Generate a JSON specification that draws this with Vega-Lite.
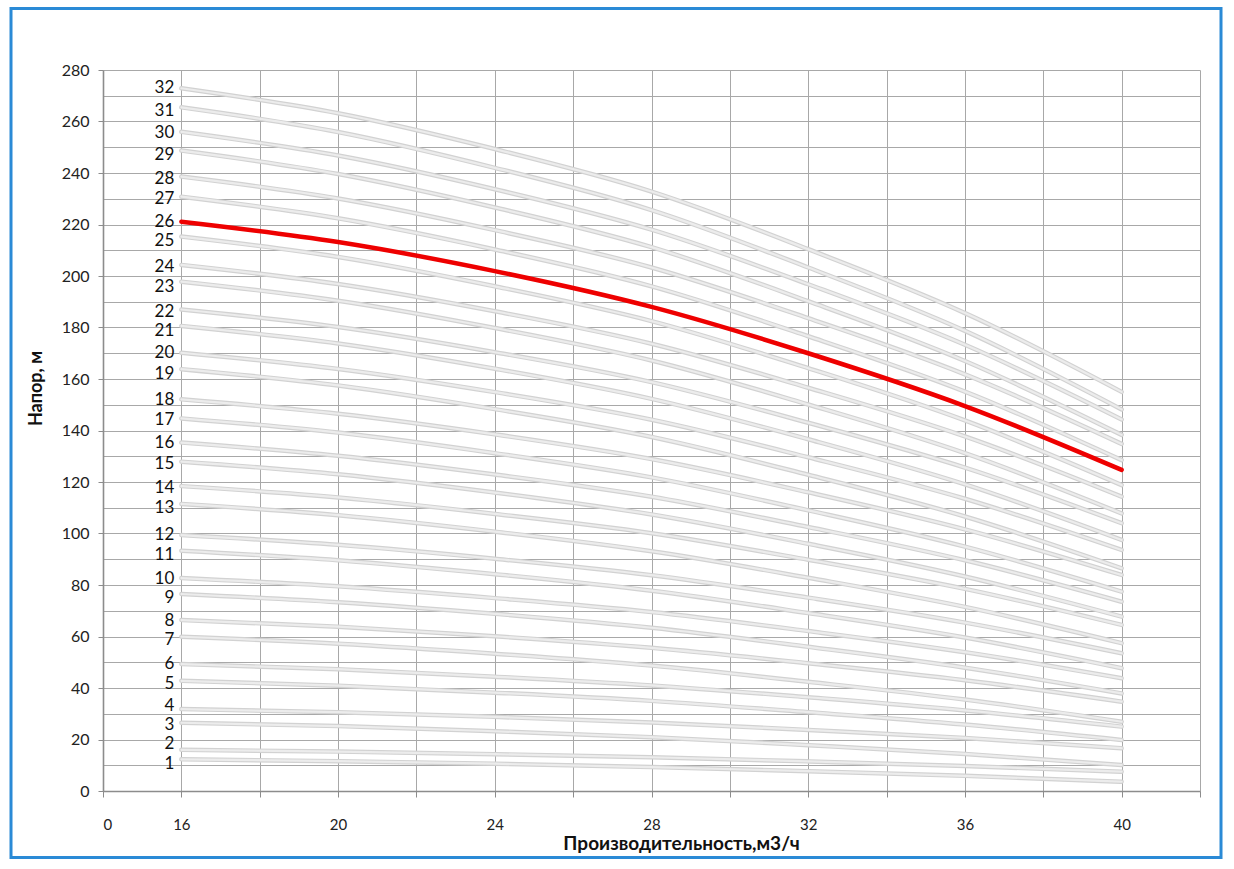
{
  "$schema": "https://vega.github.io/schema/vega-lite/v6.json",
  "autosize": {"type": "none"},
  "padding": {"left": 103, "top": 70, "right": 34, "bottom": 78},
  "width": 1097,
  "height": 721,
  "background": "white",
  "config": {"view": {"stroke": null}, "font": "Lato"},
  "datasets": {
    "labels": [
      {"n":1,"q":16,"h":10.5},{"n":2,"q":16,"h":18.4},{"n":3,"q":16,"h":25.8},{"n":4,"q":16,"h":33.0},
      {"n":5,"q":16,"h":41.5},{"n":6,"q":16,"h":49.3},{"n":7,"q":16,"h":58.6},{"n":8,"q":16,"h":66.0},
      {"n":9,"q":16,"h":74.9},{"n":10,"q":16,"h":82.5},{"n":11,"q":16,"h":91.5},{"n":12,"q":16,"h":99.3},
      {"n":13,"q":16,"h":110.0},{"n":14,"q":16,"h":117.7},{"n":15,"q":16,"h":127.0},{"n":16,"q":16,"h":135.0},
      {"n":17,"q":16,"h":144.0},{"n":18,"q":16,"h":151.8},{"n":19,"q":16,"h":162.0},{"n":20,"q":16,"h":170.0},
      {"n":21,"q":16,"h":178.6},{"n":22,"q":16,"h":186.0},{"n":23,"q":16,"h":195.7},{"n":24,"q":16,"h":203.5},
      {"n":25,"q":16,"h":213.6},{"n":26,"q":16,"h":221.0},{"n":27,"q":16,"h":230.0},{"n":28,"q":16,"h":237.7},
      {"n":29,"q":16,"h":247.0},{"n":30,"q":16,"h":255.5},{"n":31,"q":16,"h":264.0},{"n":32,"q":16,"h":273.0}
    ],
    "curves": [
    {"n":1,"q":16,"h":12.3},{"n":1,"q":20,"h":11.6},{"n":1,"q":24,"h":10.6},{"n":1,"q":28,"h":9.3},{"n":1,"q":32,"h":7.7},{"n":1,"q":36,"h":5.9},{"n":1,"q":40,"h":3.6},
    {"n":2,"q":16,"h":16.0},{"n":2,"q":20,"h":15.3},{"n":2,"q":24,"h":14.3},{"n":2,"q":28,"h":13.1},{"n":2,"q":32,"h":11.5},{"n":2,"q":36,"h":9.7},{"n":2,"q":40,"h":7.5},
    {"n":3,"q":16,"h":26.5},{"n":3,"q":20,"h":25.2},{"n":3,"q":24,"h":23.2},{"n":3,"q":28,"h":20.9},{"n":3,"q":32,"h":17.8},{"n":3,"q":36,"h":14.4},{"n":3,"q":40,"h":10.1},
    {"n":4,"q":16,"h":31.8},{"n":4,"q":20,"h":30.6},{"n":4,"q":24,"h":28.8},{"n":4,"q":28,"h":26.6},{"n":4,"q":32,"h":23.7},{"n":4,"q":36,"h":20.6},{"n":4,"q":40,"h":16.6},
    {"n":5,"q":16,"h":42.8},{"n":5,"q":20,"h":40.9},{"n":5,"q":24,"h":38.2},{"n":5,"q":28,"h":35.0},{"n":5,"q":32,"h":30.6},{"n":5,"q":36,"h":25.8},{"n":5,"q":40,"h":19.8},
    {"n":6,"q":16,"h":49.3},{"n":6,"q":20,"h":47.3},{"n":6,"q":24,"h":44.4},{"n":6,"q":28,"h":41.0},{"n":6,"q":32,"h":36.4},{"n":6,"q":36,"h":31.3},{"n":6,"q":40,"h":25.0},
    {"n":7,"q":16,"h":59.9},{"n":7,"q":20,"h":57.2},{"n":7,"q":24,"h":53.3},{"n":7,"q":28,"h":48.7},{"n":7,"q":32,"h":42.4},{"n":7,"q":36,"h":35.5},{"n":7,"q":40,"h":26.9},
    {"n":8,"q":16,"h":66.4},{"n":8,"q":20,"h":63.8},{"n":8,"q":24,"h":60.1},{"n":8,"q":28,"h":55.6},{"n":8,"q":32,"h":49.6},{"n":8,"q":36,"h":43.0},{"n":8,"q":40,"h":34.7},
    {"n":9,"q":16,"h":76.5},{"n":9,"q":20,"h":73.3},{"n":9,"q":24,"h":68.8},{"n":9,"q":28,"h":63.4},{"n":9,"q":32,"h":56.0},{"n":9,"q":36,"h":47.9},{"n":9,"q":40,"h":37.9},
    {"n":10,"q":16,"h":82.7},{"n":10,"q":20,"h":79.5},{"n":10,"q":24,"h":74.9},{"n":10,"q":28,"h":69.5},{"n":10,"q":32,"h":62.1},{"n":10,"q":36,"h":53.9},{"n":10,"q":40,"h":43.8},
    {"n":11,"q":16,"h":93.3},{"n":11,"q":20,"h":89.6},{"n":11,"q":24,"h":84.2},{"n":11,"q":28,"h":77.8},{"n":11,"q":32,"h":69.1},{"n":11,"q":36,"h":59.6},{"n":11,"q":40,"h":47.7},
    {"n":12,"q":16,"h":99.4},{"n":12,"q":20,"h":95.6},{"n":12,"q":24,"h":90.2},{"n":12,"q":28,"h":83.8},{"n":12,"q":32,"h":75.1},{"n":12,"q":36,"h":65.4},{"n":12,"q":40,"h":53.5},
    {"n":13,"q":16,"h":111.5},{"n":13,"q":20,"h":107.1},{"n":13,"q":24,"h":100.7},{"n":13,"q":28,"h":93.1},{"n":13,"q":32,"h":82.8},{"n":13,"q":36,"h":71.5},{"n":13,"q":40,"h":57.4},
    {"n":14,"q":16,"h":118.4},{"n":14,"q":20,"h":114.0},{"n":14,"q":24,"h":107.6},{"n":14,"q":28,"h":100.1},{"n":14,"q":32,"h":89.8},{"n":14,"q":36,"h":78.5},{"n":14,"q":40,"h":64.5},
    {"n":15,"q":16,"h":127.9},{"n":15,"q":20,"h":123.0},{"n":15,"q":24,"h":115.9},{"n":15,"q":28,"h":107.4},{"n":15,"q":32,"h":96.0},{"n":15,"q":36,"h":83.3},{"n":15,"q":40,"h":67.7},
    {"n":16,"q":16,"h":135.3},{"n":16,"q":20,"h":130.2},{"n":16,"q":24,"h":122.9},{"n":16,"q":28,"h":114.3},{"n":16,"q":32,"h":102.5},{"n":16,"q":36,"h":89.6},{"n":16,"q":40,"h":73.5},
    {"n":17,"q":16,"h":144.7},{"n":17,"q":20,"h":139.2},{"n":17,"q":24,"h":131.2},{"n":17,"q":28,"h":121.8},{"n":17,"q":32,"h":109.0},{"n":17,"q":36,"h":94.9},{"n":17,"q":40,"h":77.4},
    {"n":18,"q":16,"h":152.1},{"n":18,"q":20,"h":146.5},{"n":18,"q":24,"h":138.5},{"n":18,"q":28,"h":128.9},{"n":18,"q":32,"h":116.0},{"n":18,"q":36,"h":101.6},{"n":18,"q":40,"h":83.9},
    {"n":19,"q":16,"h":163.8},{"n":19,"q":20,"h":157.5},{"n":19,"q":24,"h":148.3},{"n":19,"q":28,"h":137.5},{"n":19,"q":32,"h":122.8},{"n":19,"q":36,"h":106.6},{"n":19,"q":40,"h":86.5},
    {"n":20,"q":16,"h":170.2},{"n":20,"q":20,"h":163.9},{"n":20,"q":24,"h":154.9},{"n":20,"q":28,"h":144.2},{"n":20,"q":32,"h":129.6},{"n":20,"q":36,"h":113.5},{"n":20,"q":40,"h":93.6},
    {"n":21,"q":16,"h":180.6},{"n":21,"q":20,"h":173.8},{"n":21,"q":24,"h":164.0},{"n":21,"q":28,"h":152.3},{"n":21,"q":32,"h":136.6},{"n":21,"q":36,"h":119.1},{"n":21,"q":40,"h":97.5},
    {"n":22,"q":16,"h":187.0},{"n":22,"q":20,"h":180.2},{"n":22,"q":24,"h":170.4},{"n":22,"q":28,"h":158.8},{"n":22,"q":32,"h":143.0},{"n":22,"q":36,"h":125.6},{"n":22,"q":40,"h":104.0},
    {"n":23,"q":16,"h":197.8},{"n":23,"q":20,"h":190.4},{"n":23,"q":24,"h":179.8},{"n":23,"q":28,"h":167.2},{"n":23,"q":32,"h":150.1},{"n":23,"q":36,"h":131.2},{"n":23,"q":40,"h":107.8},
    {"n":24,"q":16,"h":204.3},{"n":24,"q":20,"h":196.9},{"n":24,"q":24,"h":186.3},{"n":24,"q":28,"h":173.7},{"n":24,"q":32,"h":156.6},{"n":24,"q":36,"h":137.7},{"n":24,"q":40,"h":114.3},
    {"n":25,"q":16,"h":215.3},{"n":25,"q":20,"h":207.4},{"n":25,"q":24,"h":196.0},{"n":25,"q":28,"h":182.5},{"n":25,"q":32,"h":164.2},{"n":25,"q":36,"h":143.9},{"n":25,"q":40,"h":118.8},
    {"n":26,"q":16,"h":221.1},{"n":26,"q":20,"h":213.2},{"n":26,"q":24,"h":201.9},{"n":26,"q":28,"h":188.0},{"n":26,"q":32,"h":170.0},{"n":26,"q":36,"h":149.5},{"n":26,"q":40,"h":124.7},
    {"n":27,"q":16,"h":230.8},{"n":27,"q":20,"h":222.4},{"n":27,"q":24,"h":210.3},{"n":27,"q":28,"h":196.0},{"n":27,"q":32,"h":176.6},{"n":27,"q":36,"h":155.1},{"n":27,"q":40,"h":128.5},
    {"n":28,"q":16,"h":238.6},{"n":28,"q":20,"h":230.1},{"n":28,"q":24,"h":217.8},{"n":28,"q":28,"h":203.3},{"n":28,"q":32,"h":183.6},{"n":28,"q":36,"h":161.8},{"n":28,"q":40,"h":134.8},
    {"n":29,"q":16,"h":248.7},{"n":29,"q":20,"h":239.6},{"n":29,"q":24,"h":226.6},{"n":29,"q":28,"h":211.2},{"n":29,"q":32,"h":190.2},{"n":29,"q":36,"h":167.0},{"n":29,"q":40,"h":138.3},
    {"n":30,"q":16,"h":256.0},{"n":30,"q":20,"h":246.8},{"n":30,"q":24,"h":233.7},{"n":30,"q":28,"h":218.0},{"n":30,"q":32,"h":196.8},{"n":30,"q":36,"h":173.3},{"n":30,"q":40,"h":144.3},
    {"n":31,"q":16,"h":265.5},{"n":31,"q":20,"h":255.9},{"n":31,"q":24,"h":242.0},{"n":31,"q":28,"h":225.6},{"n":31,"q":32,"h":203.3},{"n":31,"q":36,"h":178.7},{"n":31,"q":40,"h":148.2},
    {"n":32,"q":16,"h":272.9},{"n":32,"q":20,"h":263.2},{"n":32,"q":24,"h":249.3},{"n":32,"q":28,"h":232.8},{"n":32,"q":32,"h":210.4},{"n":32,"q":36,"h":185.6},{"n":32,"q":40,"h":155.0}
    ]
  },
  "encoding": {
    "x": {
      "field": "q", "type": "quantitative",
      "scale": {"domain": [14, 42], "nice": false, "zero": false},
      "axis": {
        "values": [14,16,18,20,22,24,26,28,30,32,34,36,38,40,42],
        "labelExpr": "datum.value === 14 ? '0' : (datum.value % 4 === 0 && datum.value < 42 ? datum.label : '')",
        "grid": true, "gridColor": "#A8A8A8", "gridWidth": 1,
        "domainColor": "#8C8C8C", "domainWidth": 1.6,
        "tickColor": "#8C8C8C", "tickSize": 6, "tickWidth": 1,
        "labelFont": "Lato", "labelFontSize": 15, "labelColor": "#222222", "labelPadding": 20,
        "title": "Производительность,м3/ч", "titleFont": "Lato", "titleFontSize": 19, "titleFontWeight": "bold", "titleColor": "#111111",
        "titlePadding": 2, "titleX": 578
      }
    },
    "y": {
      "field": "h", "type": "quantitative",
      "scale": {"domain": [0, 280], "nice": false},
      "axis": {
        "values": [0,10,20,30,40,50,60,70,80,90,100,110,120,130,140,150,160,170,180,190,200,210,220,230,240,250,260,270,280],
        "labelExpr": "datum.value % 20 === 0 ? datum.label : ''",
        "tickOpacity": {"condition": {"test": "datum.value % 20 !== 0", "value": 0}, "value": 1},
        "grid": true, "gridColor": "#A8A8A8", "gridWidth": 1,
        "domainColor": "#8C8C8C", "domainWidth": 1.6,
        "tickColor": "#8C8C8C", "tickSize": 5,
        "labelFont": "Lato", "labelFontSize": 16, "labelColor": "#222222", "labelPadding": 9,
        "title": "Напор, м", "titleFont": "Lato", "titleFontSize": 18, "titleFontWeight": "bold", "titleColor": "#111111",
        "titlePadding": 16, "titleY": 318
      }
    }
  },
  "layer": [
    {
      "data": {"name": "curves"},
      "transform": [{"filter": "datum.n !== 26"}],
      "mark": {"type": "line", "interpolate": "monotone", "stroke": "#D2D2D2", "strokeWidth": 4.5, "strokeCap": "round"},
      "encoding": {"detail": {"field": "n", "type": "nominal"}}
    },
    {
      "data": {"name": "curves"},
      "transform": [{"filter": "datum.n !== 26"}],
      "mark": {"type": "line", "interpolate": "monotone", "stroke": "#ECECEC", "strokeWidth": 2.2, "strokeCap": "round"},
      "encoding": {"detail": {"field": "n", "type": "nominal"}}
    },
    {
      "data": {"name": "curves"},
      "transform": [{"filter": "datum.n === 26"}],
      "mark": {"type": "line", "interpolate": "monotone", "stroke": "#EE0000", "strokeWidth": 4.5, "strokeCap": "round"},
      "encoding": {"detail": {"field": "n", "type": "nominal"}}
    },
    {
      "data": {"name": "labels"},
      "mark": {"type": "text", "align": "right", "baseline": "middle", "dx": -7, "font": "Lato", "fontSize": 17, "color": "#111111"},
      "encoding": {"text": {"field": "n", "type": "nominal"}}
    },
    {
      "data": {"name": "labels"},
      "mark": {"type": "point", "filled": true, "size": 0, "opacity": 1},
      "encoding": {
        "color": {
          "field": "n", "type": "quantitative",
          "scale": {"range": ["rgba(255,255,255,0)", "rgba(255,255,255,0)"]},
          "legend": {
            "orient": "none", "legendX": -92, "legendY": -61.5, "direction": "horizontal",
            "gradientLength": 1210, "gradientThickness": 849,
            "gradientStrokeColor": "#2A8AD6", "gradientStrokeWidth": 3,
            "title": null, "labelOpacity": 0, "padding": 0
          }
        }
      }
    }
  ]
}
